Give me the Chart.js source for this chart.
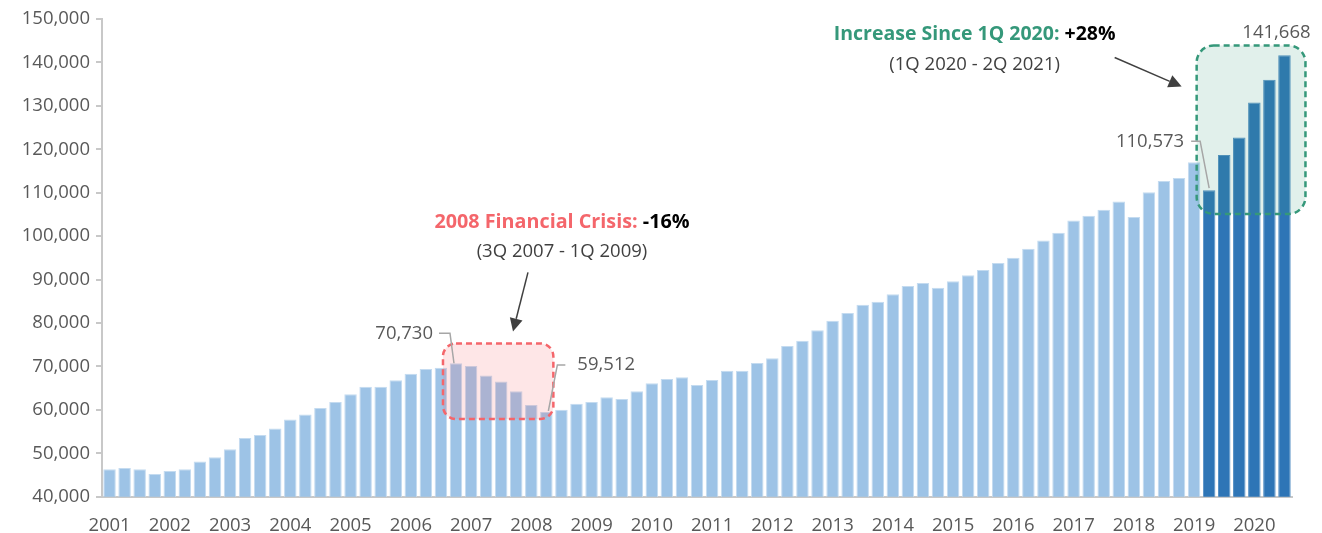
<!DOCTYPE html>
<html>
<head>
<meta charset="utf-8">
<script src="https://cdn.jsdelivr.net/npm/chart.js@4.4.1/dist/chart.umd.min.js"></script>
<style>
  html, body { margin: 0; padding: 0; background: #ffffff; }
  #wrap { width: 1322px; height: 533px; position: relative; }
</style>
</head>
<body>
<div id="wrap"><canvas id="c" width="1322" height="533"></canvas></div>
<script>
// ---------------- DATA ----------------
const quarters = [
  "4Q 2001",
  "1Q 2002","2Q 2002","3Q 2002","4Q 2002",
  "1Q 2003","2Q 2003","3Q 2003","4Q 2003",
  "1Q 2004","2Q 2004","3Q 2004","4Q 2004",
  "1Q 2005","2Q 2005","3Q 2005","4Q 2005",
  "1Q 2006","2Q 2006","3Q 2006","4Q 2006",
  "1Q 2007","2Q 2007","3Q 2007","4Q 2007",
  "1Q 2008","2Q 2008","3Q 2008","4Q 2008",
  "1Q 2009","2Q 2009","3Q 2009","4Q 2009",
  "1Q 2010","2Q 2010","3Q 2010","4Q 2010",
  "1Q 2011","2Q 2011","3Q 2011","4Q 2011",
  "1Q 2012","2Q 2012","3Q 2012","4Q 2012",
  "1Q 2013","2Q 2013","3Q 2013","4Q 2013",
  "1Q 2014","2Q 2014","3Q 2014","4Q 2014",
  "1Q 2015","2Q 2015","3Q 2015","4Q 2015",
  "1Q 2016","2Q 2016","3Q 2016","4Q 2016",
  "1Q 2017","2Q 2017","3Q 2017","4Q 2017",
  "1Q 2018","2Q 2018","3Q 2018","4Q 2018",
  "1Q 2019","2Q 2019","3Q 2019","4Q 2019",
  "1Q 2020","2Q 2020","3Q 2020","4Q 2020",
  "1Q 2021","2Q 2021"
];

const values = [
  46300,
  46600, 46300, 45200, 45900,
  46300, 48100, 49100, 50900,
  53500, 54200, 55700, 57800,
  58900, 60400, 61800, 63600,
  65300, 65300, 66800, 68300,
  69400, 69700, 70730, 70100,
  67900, 66500, 64300, 61100,
  59512, 60000, 61400, 61800,
  62900, 62500, 64300, 66100,
  67100, 67500, 65700, 66900,
  69000, 69000, 70800, 71900,
  74700, 75900, 78300, 80500,
  82300, 84200, 84900, 86600,
  88500, 89200, 88100, 89600,
  91000, 92200, 93800, 95000,
  97100, 99000, 100800, 103600,
  104700, 106100, 108000, 104400,
  110100, 112700, 113400, 117000,
  110573,
  118700, 122700, 130800, 136000,
  141668
];

const yearLabels = ["2001","2002","2003","2004","2005","2006","2007","2008","2009","2010",
                    "2011","2012","2013","2014","2015","2016","2017","2018","2019","2020"];

const yMin = 40000, yMax = 150000, yStep = 10000;

// Highlighted periods
const crisisStart = "3Q 2007", crisisEnd = "1Q 2009";
const recentStart = "1Q 2020", recentEnd = "2Q 2021";
const crisisTitle = "2008 Financial Crisis:", crisisChange = " -16%";
const crisisSub = "(3Q 2007 - 1Q 2009)";
const recentTitle = "Increase Since 1Q 2020:", recentChange = " +28%";
const recentSub = "(1Q 2020 - 2Q 2021)";
const crisisBoxRange = [57900, 75300];
const recentBoxRange = [105100, 143900];

// ---------------- STYLE ----------------
const FONT = "'Open Sans', 'Liberation Sans', sans-serif";
const LIGHT = "#9DC3E6", DARK = "#2E75B6";
const RED = "#F4666B", GREEN = "#35987A";
const TXT = "#595959";

const iRecent = quarters.indexOf(recentStart);
const iRecentEnd = quarters.indexOf(recentEnd);
const iCrisis = quarters.indexOf(crisisStart);
const iCrisisEnd = quarters.indexOf(crisisEnd);

function fmt(v){ return v.toLocaleString('en-US'); }

function roundRect(ctx, x, y, w, h, r){
  ctx.beginPath();
  ctx.moveTo(x + r, y);
  ctx.lineTo(x + w - r, y);
  ctx.arcTo(x + w, y, x + w, y + r, r);
  ctx.lineTo(x + w, y + h - r);
  ctx.arcTo(x + w, y + h, x + w - r, y + h, r);
  ctx.lineTo(x + r, y + h);
  ctx.arcTo(x, y + h, x, y + h - r, r);
  ctx.lineTo(x, y + r);
  ctx.arcTo(x, y, x + r, y, r);
  ctx.closePath();
}

function arrow(ctx, x1, y1, x2, y2){
  const ang = Math.atan2(y2 - y1, x2 - x1);
  const hl = 13, hw = 6.5;
  const bx = x2 - hl * Math.cos(ang), by = y2 - hl * Math.sin(ang);
  ctx.save();
  ctx.strokeStyle = "#404040"; ctx.fillStyle = "#404040"; ctx.lineWidth = 1.5;
  ctx.beginPath(); ctx.moveTo(x1, y1); ctx.lineTo(bx, by); ctx.stroke();
  ctx.beginPath();
  ctx.moveTo(x2, y2);
  ctx.lineTo(bx + hw * Math.sin(ang), by - hw * Math.cos(ang));
  ctx.lineTo(bx - hw * Math.sin(ang), by + hw * Math.cos(ang));
  ctx.closePath(); ctx.fill();
  ctx.restore();
}

function leader(ctx, pts){
  ctx.save();
  ctx.strokeStyle = "#A6A6A6"; ctx.lineWidth = 1.5;
  ctx.beginPath();
  ctx.moveTo(pts[0][0], pts[0][1]);
  for (let k = 1; k < pts.length; k++) ctx.lineTo(pts[k][0], pts[k][1]);
  ctx.stroke();
  ctx.restore();
}

function label(ctx, text, x, y, align){
  ctx.save();
  ctx.font = "18.5px " + FONT;
  ctx.fillStyle = TXT;
  ctx.textAlign = align; ctx.textBaseline = "middle";
  ctx.fillText(text, x, y);
  ctx.restore();
}

function twoPartTitle(ctx, a, colA, b, cx, cy, targetW){
  ctx.save();
  ctx.font = "bold 20px " + FONT;
  const w0 = ctx.measureText(a + b).width;
  const size = 20 * targetW / w0;
  ctx.font = "bold " + size.toFixed(2) + "px " + FONT;
  const wa = ctx.measureText(a).width, wb = ctx.measureText(b).width;
  const x0 = cx - (wa + wb) / 2;
  ctx.textBaseline = "middle"; ctx.textAlign = "left";
  ctx.fillStyle = colA; ctx.fillText(a, x0, cy);
  ctx.fillStyle = "#000000"; ctx.fillText(b, x0 + wa, cy);
  ctx.restore();
}

function subTitle(ctx, t, cx, cy){
  ctx.save();
  ctx.font = "18.5px " + FONT;
  ctx.fillStyle = "#404040";
  ctx.textAlign = "center"; ctx.textBaseline = "middle";
  ctx.fillText(t, cx, cy);
  ctx.restore();
}

const annotations = {
  id: 'annotations',
  afterDatasetsDraw(chart){
    const ctx = chart.ctx;
    const xs = chart.scales.x, ys = chart.scales.y;
    const data = chart.data.datasets[0].data;

    // ---- crisis box ----
    const cL = xs.getPixelForValue(iCrisis) - 13;
    const cR = xs.getPixelForValue(iCrisisEnd) + 7;
    const cT = ys.getPixelForValue(crisisBoxRange[1]);
    const cB = ys.getPixelForValue(crisisBoxRange[0]);
    ctx.save();
    roundRect(ctx, cL, cT, cR - cL, cB - cT, 13);
    ctx.fillStyle = "rgba(246, 102, 108, 0.16)"; ctx.fill();
    ctx.setLineDash([6, 4]); ctx.lineWidth = 2.5; ctx.strokeStyle = RED; ctx.stroke();
    ctx.restore();

    // ---- recent box ----
    const gL = xs.getPixelForValue(iRecent) - 12.5;
    const gR = xs.getPixelForValue(iRecentEnd) + 21;
    const gT = ys.getPixelForValue(recentBoxRange[1]);
    const gB = ys.getPixelForValue(recentBoxRange[0]);
    ctx.save();
    roundRect(ctx, gL, gT, gR - gL, gB - gT, 17);
    ctx.fillStyle = "rgba(53, 152, 122, 0.15)"; ctx.fill();
    ctx.setLineDash([6, 4]); ctx.lineWidth = 2.5; ctx.strokeStyle = GREEN; ctx.stroke();
    ctx.restore();

    // ---- value labels with leaders ----
    let px = xs.getPixelForValue(iCrisis), py = ys.getPixelForValue(data[iCrisis]);
    leader(ctx, [[px - 17, py - 30], [px - 6, py - 30], [px - 2, py]]);
    label(ctx, fmt(data[iCrisis]), px - 23, py - 30, "right");

    px = xs.getPixelForValue(iCrisisEnd); py = ys.getPixelForValue(data[iCrisisEnd]);
    leader(ctx, [[px + 19, py - 47], [px + 11, py - 47], [px + 2, py - 1]]);
    label(ctx, fmt(data[iCrisisEnd]), px + 31, py - 47, "left");

    px = xs.getPixelForValue(iRecent); py = ys.getPixelForValue(data[iRecent]);
    leader(ctx, [[px - 18, py - 49], [px - 9, py - 49], [px, py - 2]]);
    label(ctx, fmt(data[iRecent]), px - 25, py - 48, "right");

    px = xs.getPixelForValue(iRecentEnd); py = ys.getPixelForValue(data[iRecentEnd]);
    label(ctx, fmt(data[iRecentEnd]), px - 8, py - 22, "center");

    // ---- titles and arrows ----
    twoPartTitle(ctx, crisisTitle, RED, crisisChange, cL + 119, cT - 121, 255);
    subTitle(ctx, crisisSub, cL + 119, cT - 92);
    arrow(ctx, cL + 85, cT - 71, cL + 70, cT - 12);

    twoPartTitle(ctx, recentTitle, GREEN, recentChange, gL - 222, gT - 11, 282);
    subTitle(ctx, recentSub, gL - 222, gT + 19);
    arrow(ctx, gL - 82, gT + 12, gL - 15, gT + 41);
  }
};

new Chart(document.getElementById('c'), {
  type: 'bar',
  data: {
    labels: quarters,
    datasets: [{
      data: values,
      backgroundColor: values.map((v, i) => i >= iRecent ? DARK : LIGHT),
      borderColor: values.map((v, i) => i >= iRecent ? "#5690C4" : "#C4DBF0"),
      borderWidth: 1,
      borderSkipped: 'bottom',
      barPercentage: 0.83,
      categoryPercentage: 1.0
    }]
  },
  options: {
    responsive: false,
    animation: false,
    devicePixelRatio: 1,
    layout: { padding: { top: 19, right: 30, left: 0, bottom: 0 } },
    plugins: { legend: { display: false }, tooltip: { enabled: false } },
    scales: {
      x: {
        offset: true,
        grid: { display: false, drawTicks: false },
        border: { display: true, color: "#C8C8C8", width: 2 },
        ticks: {
          autoSkip: false, maxRotation: 0, minRotation: 0,
          padding: 18,
          color: TXT,
          font: { family: FONT, size: 18.5 },
          callback: (val, idx) => idx % 4 === 0 ? yearLabels[idx / 4] : ''
        },
        afterFit: (s) => { s.height = 36.3; }
      },
      y: {
        min: yMin, max: yMax,
        grid: { display: true, drawOnChartArea: false, drawTicks: true, tickLength: 6, color: "#C8C8C8", lineWidth: 2 },
        border: { display: true, color: "#C8C8C8", width: 2 },
        ticks: {
          stepSize: yStep,
          padding: 6,
          color: TXT,
          font: { family: FONT, size: 18.5 },
          callback: (v) => fmt(v)
        },
        afterFit: (s) => { s.width = 102; }
      }
    }
  },
  plugins: [annotations]
});
</script>
</body>
</html>
